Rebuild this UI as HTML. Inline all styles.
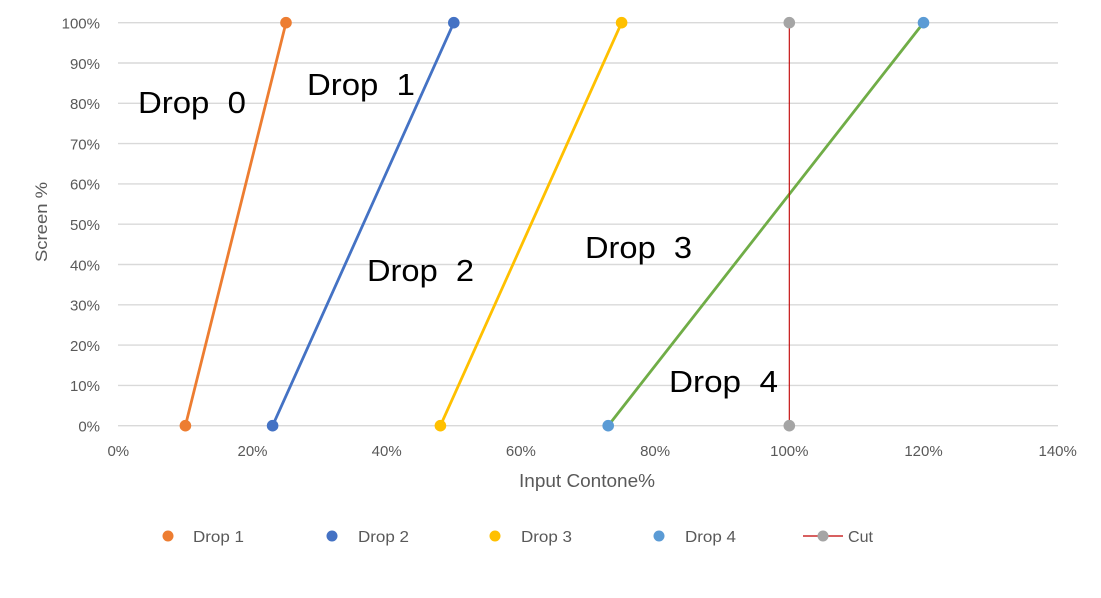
<!DOCTYPE html>
<html>
<head>
<meta charset="utf-8">
<style>
  html, body { margin: 0; padding: 0; background: #ffffff; }
  svg { display: block; }
  text { font-family: "Liberation Sans", sans-serif; }
</style>
</head>
<body>
<svg width="1101" height="598" viewBox="0 0 1101 598" xmlns="http://www.w3.org/2000/svg">
  <rect x="0" y="0" width="1101" height="598" fill="#ffffff"/>

  <!-- gridlines -->
  <g stroke="#D9D9D9" stroke-width="1.4">
    <line x1="118" y1="22.7" x2="1058" y2="22.7"/>
    <line x1="118" y1="63.0" x2="1058" y2="63.0"/>
    <line x1="118" y1="103.3" x2="1058" y2="103.3"/>
    <line x1="118" y1="143.6" x2="1058" y2="143.6"/>
    <line x1="118" y1="183.9" x2="1058" y2="183.9"/>
    <line x1="118" y1="224.2" x2="1058" y2="224.2"/>
    <line x1="118" y1="264.5" x2="1058" y2="264.5"/>
    <line x1="118" y1="304.8" x2="1058" y2="304.8"/>
    <line x1="118" y1="345.1" x2="1058" y2="345.1"/>
    <line x1="118" y1="385.4" x2="1058" y2="385.4"/>
    <line x1="118" y1="425.7" x2="1058" y2="425.7"/>
  </g>

  <!-- y tick labels -->
  <g fill="#595959" font-size="15" text-anchor="end">
    <text x="100" y="28.5">100%</text>
    <text x="100" y="68.8">90%</text>
    <text x="100" y="109.1">80%</text>
    <text x="100" y="149.4">70%</text>
    <text x="100" y="189.7">60%</text>
    <text x="100" y="230.0">50%</text>
    <text x="100" y="270.3">40%</text>
    <text x="100" y="310.6">30%</text>
    <text x="100" y="350.9">20%</text>
    <text x="100" y="391.2">10%</text>
    <text x="100" y="431.5">0%</text>
  </g>

  <!-- x tick labels -->
  <g fill="#595959" font-size="15" text-anchor="middle">
    <text x="118.3" y="456">0%</text>
    <text x="252.5" y="456">20%</text>
    <text x="386.7" y="456">40%</text>
    <text x="520.9" y="456">60%</text>
    <text x="655.1" y="456">80%</text>
    <text x="789.3" y="456">100%</text>
    <text x="923.5" y="456">120%</text>
    <text x="1057.7" y="456">140%</text>
  </g>

  <!-- axis titles -->
  <text x="519" y="487" fill="#595959" font-size="18" textLength="136" lengthAdjust="spacingAndGlyphs">Input Contone%</text>
  <text transform="translate(47,222) rotate(-90)" fill="#595959" font-size="17" text-anchor="middle" textLength="80" lengthAdjust="spacingAndGlyphs">Screen %</text>

  <!-- series lines -->
  <g stroke-width="2.8" stroke-linecap="round" fill="none">
    <line x1="185.4" y1="425.7" x2="286" y2="22.7" stroke="#ED7D31"/>
    <line x1="272.6" y1="425.7" x2="453.8" y2="22.7" stroke="#4472C4"/>
    <line x1="440.4" y1="425.7" x2="621.6" y2="22.7" stroke="#FFC000"/>
    <line x1="608.2" y1="425.7" x2="923.5" y2="22.7" stroke="#70AD47"/>
  </g>
  <line x1="789.3" y1="22.7" x2="789.3" y2="425.7" stroke="#C00000" stroke-width="1.1"/>

  <!-- markers -->
  <g>
    <circle cx="185.4" cy="425.7" r="5.8" fill="#ED7D31"/>
    <circle cx="286" cy="22.7" r="5.8" fill="#ED7D31"/>
    <circle cx="272.6" cy="425.7" r="5.8" fill="#4472C4"/>
    <circle cx="453.8" cy="22.7" r="5.8" fill="#4472C4"/>
    <circle cx="440.4" cy="425.7" r="5.8" fill="#FFC000"/>
    <circle cx="621.6" cy="22.7" r="5.8" fill="#FFC000"/>
    <circle cx="608.2" cy="425.7" r="5.8" fill="#5B9BD5"/>
    <circle cx="923.5" cy="22.7" r="5.8" fill="#5B9BD5"/>
    <circle cx="789.3" cy="22.7" r="5.8" fill="#A5A5A5"/>
    <circle cx="789.3" cy="425.7" r="5.8" fill="#A5A5A5"/>
  </g>

  <!-- in-chart labels -->
  <g fill="#000000" font-size="31">
    <text x="138" y="113" textLength="108" lengthAdjust="spacingAndGlyphs" xml:space="preserve">Drop  0</text>
    <text x="307" y="95" textLength="108" lengthAdjust="spacingAndGlyphs" xml:space="preserve">Drop  1</text>
    <text x="367" y="281" textLength="107" lengthAdjust="spacingAndGlyphs" xml:space="preserve">Drop  2</text>
    <text x="585" y="258" textLength="107" lengthAdjust="spacingAndGlyphs" xml:space="preserve">Drop  3</text>
    <text x="669" y="392" textLength="109" lengthAdjust="spacingAndGlyphs" xml:space="preserve">Drop  4</text>
  </g>

  <!-- legend -->
  <g font-size="16" fill="#595959">
    <circle cx="168" cy="536" r="5.5" fill="#ED7D31"/>
    <text x="193" y="542" textLength="51" lengthAdjust="spacingAndGlyphs">Drop 1</text>

    <circle cx="332" cy="536" r="5.5" fill="#4472C4"/>
    <text x="358" y="542" textLength="51" lengthAdjust="spacingAndGlyphs">Drop 2</text>

    <circle cx="495" cy="536" r="5.5" fill="#FFC000"/>
    <text x="521" y="542" textLength="51" lengthAdjust="spacingAndGlyphs">Drop 3</text>

    <circle cx="659" cy="536" r="5.5" fill="#5B9BD5"/>
    <text x="685" y="542" textLength="51" lengthAdjust="spacingAndGlyphs">Drop 4</text>

    <line x1="803" y1="536" x2="843" y2="536" stroke="#C00000" stroke-width="1.2"/>
    <circle cx="823" cy="536" r="5.5" fill="#A5A5A5"/>
    <text x="848" y="542" textLength="25" lengthAdjust="spacingAndGlyphs">Cut</text>
  </g>
</svg>
</body>
</html>
